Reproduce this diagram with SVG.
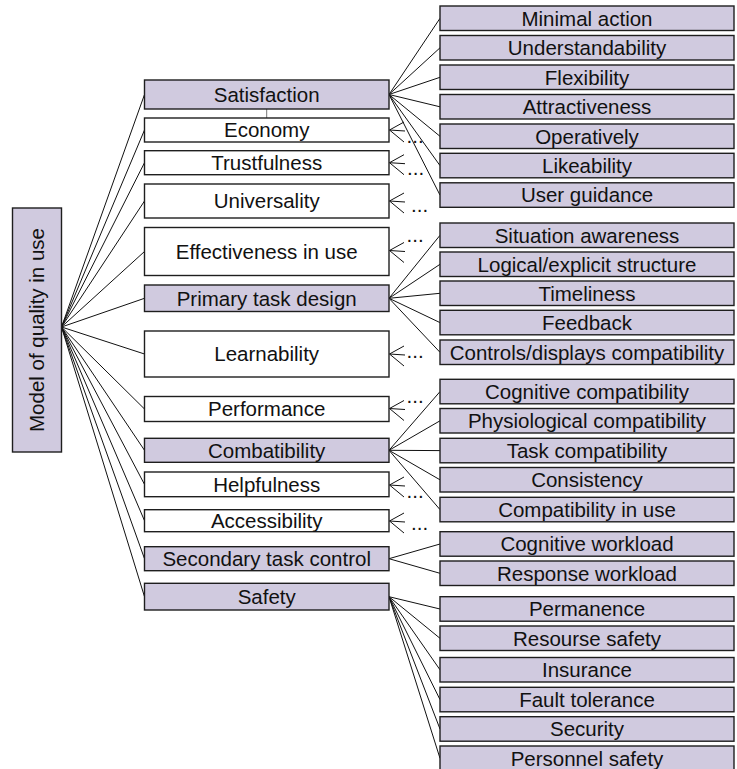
<svg xmlns="http://www.w3.org/2000/svg" width="737" height="769" viewBox="0 0 737 769">
<style>
.p{fill:#D0CADF;stroke:#1e1e1e;stroke-width:1.4}
.w{fill:#ffffff;stroke:#1e1e1e;stroke-width:1.4}
text{font-family:"Liberation Sans",Arial,sans-serif;font-size:20.5px;fill:#111}
.c{text-anchor:middle}
.ln line{stroke:#111;stroke-width:1}
</style>
<rect width="737" height="769" fill="#fff"/>
<g id="connectors" class="ln">
<line x1="61.5" y1="327" x2="144.5" y2="94.5"/>
<line x1="61.5" y1="327" x2="144.5" y2="130"/>
<line x1="61.5" y1="327" x2="144.5" y2="162.7"/>
<line x1="61.5" y1="327" x2="144.5" y2="201"/>
<line x1="61.5" y1="327" x2="144.5" y2="251.5"/>
<line x1="61.5" y1="327" x2="144.5" y2="298.3"/>
<line x1="61.5" y1="327" x2="144.5" y2="354"/>
<line x1="61.5" y1="327" x2="144.5" y2="409"/>
<line x1="61.5" y1="327" x2="144.5" y2="450.3"/>
<line x1="61.5" y1="327" x2="144.5" y2="484.4"/>
<line x1="61.5" y1="327" x2="144.5" y2="520.7"/>
<line x1="61.5" y1="327" x2="144.5" y2="558.7"/>
<line x1="61.5" y1="327" x2="144.5" y2="596.7"/>
<line x1="266.7" y1="109" x2="266.7" y2="118" style="stroke:#777"/>
<line x1="389" y1="94.5" x2="440" y2="18.3"/>
<line x1="389" y1="94.5" x2="440" y2="47.8"/>
<line x1="389" y1="94.5" x2="440" y2="77.3"/>
<line x1="389" y1="94.5" x2="440" y2="106.8"/>
<line x1="389" y1="94.5" x2="440" y2="136.3"/>
<line x1="389" y1="94.5" x2="440" y2="165.6"/>
<line x1="389" y1="94.5" x2="440" y2="195.1"/>
<line x1="389" y1="298.3" x2="440" y2="235.3"/>
<line x1="389" y1="298.3" x2="440" y2="264.3"/>
<line x1="389" y1="298.3" x2="440" y2="293.3"/>
<line x1="389" y1="298.3" x2="440" y2="322.6"/>
<line x1="389" y1="298.3" x2="440" y2="352.3"/>
<line x1="389" y1="450.3" x2="440" y2="391.6"/>
<line x1="389" y1="450.3" x2="440" y2="420.8"/>
<line x1="389" y1="450.3" x2="440" y2="450.6"/>
<line x1="389" y1="450.3" x2="440" y2="479.8"/>
<line x1="389" y1="450.3" x2="440" y2="509.6"/>
<line x1="389" y1="558.7" x2="440" y2="544"/>
<line x1="389" y1="558.7" x2="440" y2="573.3"/>
<line x1="389" y1="596.7" x2="440" y2="609"/>
<line x1="389" y1="596.7" x2="440" y2="638.3"/>
<line x1="389" y1="596.7" x2="440" y2="669.8"/>
<line x1="389" y1="596.7" x2="440" y2="699.6"/>
<line x1="389" y1="596.7" x2="440" y2="729"/>
<line x1="389" y1="596.7" x2="440" y2="758.3"/>
<g id="more-arrows">
<path d="M404 122 L389.5 130 L405 131 M389.5 130 L404 142" fill="none" stroke="#111"/>
<path d="M404 154.7 L389.5 162.7 L405 163.7 M389.5 162.7 L404 174.7" fill="none" stroke="#111"/>
<path d="M404 193 L389.5 201 L405 202 M389.5 201 L404 213" fill="none" stroke="#111"/>
<path d="M404 242.5 L389.5 250.5 L405 251.5 M389.5 250.5 L404 262.5" fill="none" stroke="#111"/>
<path d="M404 346 L389.5 354 L405 355 M389.5 354 L404 366" fill="none" stroke="#111"/>
<path d="M404 400.5 L389.5 408.5 L405 409.5 M389.5 408.5 L404 420.5" fill="none" stroke="#111"/>
<path d="M404 477 L389.5 485 L405 486 M389.5 485 L404 497" fill="none" stroke="#111"/>
<path d="M404 513 L389.5 521 L405 522 M389.5 521 L404 533" fill="none" stroke="#111"/>
<text x="406.5" y="143">...</text>
<text x="407" y="174.5">...</text>
<text x="411" y="211.5">...</text>
<text x="406.5" y="241.5">...</text>
<text x="406.5" y="358">...</text>
<text x="406.5" y="403">...</text>
<text x="406.5" y="498">...</text>
<text x="411" y="529.5">...</text>
</g>
</g>
<g id="model"><rect class="p" x="12.5" y="208" width="49" height="244"/><text class="c" transform="translate(44.2,330) rotate(-90)">Model of quality in use</text></g>
<g id="satisfaction"><rect class="p" x="144.5" y="80" width="244.5" height="29"/><text class="c" x="266.7" y="101.7">Satisfaction</text></g>
<g id="economy"><rect class="w" x="144.5" y="118" width="244.5" height="24"/><text class="c" x="266.7" y="137.2">Economy</text></g>
<g id="trustfulness"><rect class="w" x="144.5" y="150.7" width="244.5" height="24"/><text class="c" x="266.7" y="169.9">Trustfulness</text></g>
<g id="universality"><rect class="w" x="144.5" y="184" width="244.5" height="34"/><text class="c" x="266.7" y="208.2">Universality</text></g>
<g id="effectiveness"><rect class="w" x="144.5" y="227.5" width="244.5" height="48"/><text class="c" x="266.7" y="258.7">Effectiveness in use</text></g>
<g id="primary-task-design"><rect class="p" x="144.5" y="285" width="244.5" height="26.5"/><text class="c" x="266.7" y="305.5">Primary task design</text></g>
<g id="learnability"><rect class="w" x="144.5" y="331" width="244.5" height="46"/><text class="c" x="266.7" y="361.2">Learnability</text></g>
<g id="performance"><rect class="w" x="144.5" y="396.5" width="244.5" height="25"/><text class="c" x="266.7" y="416.2">Performance</text></g>
<g id="combatibility"><rect class="p" x="144.5" y="438.3" width="244.5" height="24"/><text class="c" x="266.7" y="457.5">Combatibility</text></g>
<g id="helpfulness"><rect class="w" x="144.5" y="472" width="244.5" height="24.7"/><text class="c" x="266.7" y="491.6">Helpfulness</text></g>
<g id="accessibility"><rect class="w" x="144.5" y="509.7" width="244.5" height="22"/><text class="c" x="266.7" y="527.9">Accessibility</text></g>
<g id="secondary-task-control"><rect class="p" x="144.5" y="546.7" width="244.5" height="24"/><text class="c" x="266.7" y="565.9">Secondary task control</text></g>
<g id="safety"><rect class="p" x="144.5" y="583.3" width="244.5" height="26.7"/><text class="c" x="266.7" y="603.9">Safety</text></g>
<g id="minimal-action"><rect class="p" x="440" y="6" width="294" height="24.5"/><text class="c" x="587" y="25.5">Minimal action</text></g>
<g id="understandability"><rect class="p" x="440" y="35.5" width="294" height="24.5"/><text class="c" x="587" y="55">Understandability</text></g>
<g id="flexibility"><rect class="p" x="440" y="65" width="294" height="24.5"/><text class="c" x="587" y="84.5">Flexibility</text></g>
<g id="attractiveness"><rect class="p" x="440" y="94.5" width="294" height="24.5"/><text class="c" x="587" y="114">Attractiveness</text></g>
<g id="operatively"><rect class="p" x="440" y="124" width="294" height="24.5"/><text class="c" x="587" y="143.5">Operatively</text></g>
<g id="likeability"><rect class="p" x="440" y="153.3" width="294" height="24.5"/><text class="c" x="587" y="172.8">Likeability</text></g>
<g id="user-guidance"><rect class="p" x="440" y="182.8" width="294" height="24.5"/><text class="c" x="587" y="202.3">User guidance</text></g>
<g id="situation-awareness"><rect class="p" x="440" y="223" width="294" height="24.5"/><text class="c" x="587" y="242.5">Situation awareness</text></g>
<g id="logical-structure"><rect class="p" x="440" y="252" width="294" height="24.5"/><text class="c" x="587" y="271.5">Logical/explicit structure</text></g>
<g id="timeliness"><rect class="p" x="440" y="281" width="294" height="24.5"/><text class="c" x="587" y="300.5">Timeliness</text></g>
<g id="feedback"><rect class="p" x="440" y="310.3" width="294" height="24.5"/><text class="c" x="587" y="329.8">Feedback</text></g>
<g id="controls-displays"><rect class="p" x="440" y="340" width="294" height="24.5"/><text class="c" x="587" y="359.5">Controls/displays compatibility</text></g>
<g id="cognitive-compatibility"><rect class="p" x="440" y="379.3" width="294" height="24.5"/><text class="c" x="587" y="398.8">Cognitive compatibility</text></g>
<g id="physiological-compatibility"><rect class="p" x="440" y="408.5" width="294" height="24.5"/><text class="c" x="587" y="428">Physiological compatibility</text></g>
<g id="task-compatibility"><rect class="p" x="440" y="438.3" width="294" height="24.5"/><text class="c" x="587" y="457.8">Task compatibility</text></g>
<g id="consistency"><rect class="p" x="440" y="467.5" width="294" height="24.5"/><text class="c" x="587" y="487">Consistency</text></g>
<g id="compatibility-in-use"><rect class="p" x="440" y="497.3" width="294" height="24.5"/><text class="c" x="587" y="516.8">Compatibility in use</text></g>
<g id="cognitive-workload"><rect class="p" x="440" y="531.7" width="294" height="24.5"/><text class="c" x="587" y="551.2">Cognitive workload</text></g>
<g id="response-workload"><rect class="p" x="440" y="561" width="294" height="24.5"/><text class="c" x="587" y="580.5">Response workload</text></g>
<g id="permanence"><rect class="p" x="440" y="596.7" width="294" height="24.5"/><text class="c" x="587" y="616.2">Permanence</text></g>
<g id="resourse-safety"><rect class="p" x="440" y="626" width="294" height="24.5"/><text class="c" x="587" y="645.5">Resourse safety</text></g>
<g id="insurance"><rect class="p" x="440" y="657.5" width="294" height="24.5"/><text class="c" x="587" y="677">Insurance</text></g>
<g id="fault-tolerance"><rect class="p" x="440" y="687.3" width="294" height="24.5"/><text class="c" x="587" y="706.8">Fault tolerance</text></g>
<g id="security"><rect class="p" x="440" y="716.7" width="294" height="24.5"/><text class="c" x="587" y="736.2">Security</text></g>
<g id="personnel-safety"><rect class="p" x="440" y="746" width="294" height="24.5"/><text class="c" x="587" y="765.5">Personnel safety</text></g>
</svg>
